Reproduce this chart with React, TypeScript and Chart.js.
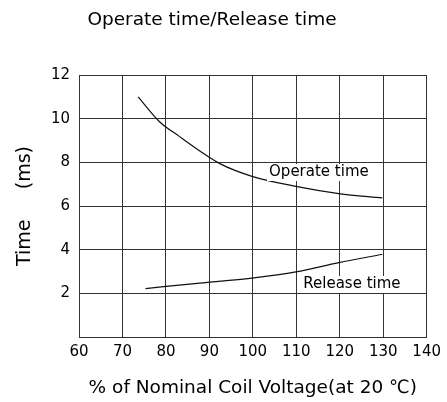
import React, { useEffect, useRef } from "react";
import { Chart, registerables } from "chart.js";

Chart.register(...registerables);

// ---- data ----
const voltageOperate = [73.6, 78.6, 83, 87.8, 92.4, 99.8, 109.9, 119.8, 129.8];
const operateTime = [11.0, 9.85, 9.2, 8.52, 7.94, 7.36, 6.9, 6.57, 6.37];
const voltageRelease = [75.3, 87.8, 99.8, 109.9, 119.8, 129.8];
const releaseTime = [2.22, 2.47, 2.7, 2.98, 3.41, 3.79];

const xMin = 60;
const xMax = 140;
const xStep = 10;
const yMin = 0;
const yMax = 12;
const yStep = 2;

const chartTitle = "Operate time/Release time";
const xTitle = "% of Nominal Coil Voltage(at 20 ℃)";
const yTitle = "Time     (ms)";
const seriesNames = ["Operate time", "Release time"];
// label anchors in data coordinates (voltage %, ms)
const labelX = [115.2, 122.8];
const labelY = [7.55, 2.42];

const FONT = '"DejaVu Sans", "Liberation Sans", Arial, sans-serif';
const GRID = "#333333";

const labelPlugin = {
  id: "curveLabels",
  afterDatasetsDraw(chart: any) {
    const { ctx, scales, chartArea } = chart;
    const x = scales.x;
    const y = scales.y;
    ctx.save();
    ctx.textAlign = "center";
    ctx.textBaseline = "middle";
    ctx.font = `15px ${FONT}`;
    seriesNames.forEach((t, i) => {
      const px = x.getPixelForValue(labelX[i]);
      const py = y.getPixelForValue(labelY[i]);
      const w = ctx.measureText(t).width;
      ctx.fillStyle = "#ffffff";
      ctx.fillRect(Math.round(px - w / 2 - 2), Math.round(py - 8), Math.round(w + 4), 17);
      ctx.fillStyle = "#000000";
      ctx.fillText(t, px, py);
    });
    ctx.font = `18.5px ${FONT}`;
    ctx.fillStyle = "#000000";
    ctx.fillText(chartTitle, chartArea.left + 133, 20);
    ctx.restore();
  },
};

export default function App() {
  const ref = useRef<HTMLCanvasElement | null>(null);

  useEffect(() => {
    if (!ref.current) return;
    const chart = new Chart(ref.current, {
      type: "line",
      data: {
        datasets: [
          {
            label: seriesNames[0],
            data: voltageOperate.map((v, i) => ({ x: v, y: operateTime[i] })),
            borderColor: "#111111",
            borderWidth: 1.2,
            pointRadius: 0,
            fill: false,
            cubicInterpolationMode: "monotone",
          },
          {
            label: seriesNames[1],
            data: voltageRelease.map((v, i) => ({ x: v, y: releaseTime[i] })),
            borderColor: "#111111",
            borderWidth: 1.2,
            pointRadius: 0,
            fill: false,
            cubicInterpolationMode: "monotone",
          },
        ],
      },
      options: {
        animation: false,
        responsive: false,
        devicePixelRatio: 1,
        layout: { padding: { top: 75, right: 20, bottom: 0, left: 0 } },
        plugins: {
          legend: { display: false },
          title: { display: false },
          tooltip: { enabled: false },
        },
        scales: {
          x: {
            type: "linear",
            min: xMin,
            max: xMax,
            afterFit: (s: any) => {
              s.height = 65;
            },
            ticks: {
              stepSize: xStep,
              autoSkip: false,
              maxRotation: 0,
              padding: 6,
              color: "#000",
              font: { family: FONT, size: 15 },
            },
            grid: { color: GRID, lineWidth: 1, drawTicks: false },
            border: { color: GRID, width: 1 },
            title: {
              display: true,
              text: xTitle,
              color: "#000",
              font: { family: FONT, size: 18.5 },
              padding: { top: 0, bottom: 3 },
            },
          },
          y: {
            type: "linear",
            min: yMin,
            max: yMax,
            afterFit: (s: any) => {
              s.width = 79;
            },
            ticks: {
              stepSize: yStep,
              autoSkip: false,
              padding: 9,
              color: "#000",
              font: { family: FONT, size: 15 },
              callback: (v: any) => (v === 0 ? "" : String(v)),
            },
            grid: { color: GRID, lineWidth: 1, drawTicks: false },
            border: { color: GRID, width: 1 },
            title: {
              display: true,
              text: yTitle,
              color: "#000",
              font: { family: FONT, size: 19 },
              padding: { top: 14, bottom: 0 },
            },
          },
        },
      },
      plugins: [labelPlugin],
    } as any);
    return () => chart.destroy();
  }, []);

  return (
    <div style={{ position: "absolute", left: 0, top: 0, width: 447, height: 402, background: "#fff" }}>
      <canvas ref={ref} width={447} height={402} />
    </div>
  );
}
